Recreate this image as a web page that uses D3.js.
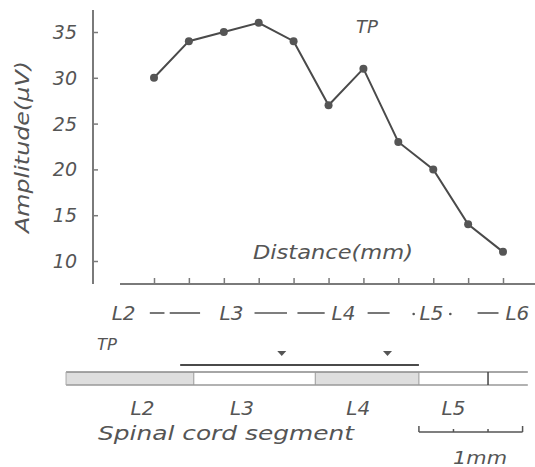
<!DOCTYPE html>
<html><head><meta charset="utf-8">
<script src="https://cdn.jsdelivr.net/npm/d3@7"></script>
<style>
body{margin:0;background:#fff;}
text{font-family:"DejaVu Sans",sans-serif;font-style:italic;fill:#555;}
</style></head>
<body><svg id="c" width="535" height="467"></svg>
<script>
// ---- data ----
const distanceMm = [0, 0.333, 0.667, 1, 1.333, 1.667, 2, 2.333, 2.667, 3, 3.333];
const amplitude  = [30, 34, 35, 36, 34, 27, 31, 23, 20, 14, 11];
const yTicks = [10, 15, 20, 25, 30, 35];
const axisSegLabels = ["L2", "L3", "L4", "L5", "L6"];
const axisSegLabelMm = [-0.29, 0.74, 1.81, 2.65, 3.47];
const axisDashMm = [[-0.04, 0.10], [0.15, 0.44], [0.96, 1.27], [1.37, 1.63], [2.04, 2.25], [3.09, 3.29]];
const axisDotMm = [2.48, 2.83];
const cordSegments = ["L2", "L3", "L4", "L5", ""];
const cordBounds = [-0.84, 0.38, 1.54, 2.53, 3.19, 3.57];
const cordShaded = [true, false, true, false, false];
const cordLabelMm = [-0.11, 0.84, 1.95, 2.86];
const tpRangeMm = [0.25, 2.53];
const tpMarkersMm = [1.22, 2.23];
const scaleBarMm = [2.53, 2.86, 3.19, 3.52];

// ---- scales ----
const svg = d3.select("#c");
const x = d3.scaleLinear().domain([0, 3.333]).range([154, 503]);
const y = d3.scaleLinear().domain([10, 35]).range([261, 32]);
const axisCol = "#7a7a7a", ink = "#4a4a4a";

// y axis
svg.append("line").attr("x1", 93).attr("x2", 93).attr("y1", 10).attr("y2", 284)
  .attr("stroke", axisCol).attr("stroke-width", 2);
const yAxis = d3.axisRight(y).tickValues(yTicks).tickSize(5).tickFormat("");
const gy = svg.append("g").attr("transform", "translate(93,0)").call(yAxis);
gy.select(".domain").remove();
gy.selectAll("line").attr("stroke", axisCol).attr("stroke-width", 1.5);
svg.selectAll(".ylab").data(yTicks).enter().append("text")
  .attr("x", 77).attr("y", d => y(d) + 7).attr("text-anchor", "end")
  .style("font-size", "19px").text(d => d);
svg.append("text").attr("transform", "translate(29,147) rotate(-90)")
  .attr("text-anchor", "middle").style("font-size", "20px")
  .attr("textLength", 172).attr("lengthAdjust", "spacingAndGlyphs").text("Amplitude(\u03bcV)");

// x axis
svg.append("line").attr("x1", 120).attr("x2", 535).attr("y1", 284).attr("y2", 284)
  .attr("stroke", axisCol).attr("stroke-width", 2);
const xAxis = d3.axisTop(x).tickValues(distanceMm).tickSize(6).tickFormat("");
const gx = svg.append("g").attr("transform", "translate(0,284)").call(xAxis);
gx.select(".domain").remove();
gx.selectAll("line").attr("stroke", axisCol).attr("stroke-width", 1.5);

svg.append("text").attr("x", 253).attr("y", 259)
  .style("font-size", "20px").attr("textLength", 160).attr("lengthAdjust", "spacingAndGlyphs")
  .text("Distance(mm)");
svg.append("text").attr("x", 356).attr("y", 33)
  .style("font-size", "18px").attr("textLength", 22).attr("lengthAdjust", "spacingAndGlyphs").text("TP");

// line + points
svg.append("path").datum(amplitude)
  .attr("d", d3.line().x((d, i) => x(distanceMm[i])).y(d => y(d)))
  .attr("fill", "none").attr("stroke", ink).attr("stroke-width", 2);
svg.selectAll(".pt").data(amplitude).enter().append("circle")
  .attr("cx", (d, i) => x(distanceMm[i])).attr("cy", d => y(d)).attr("r", 4)
  .attr("fill", "#555");

// axis segment row
svg.selectAll(".seg").data(axisSegLabels).enter().append("text")
  .attr("x", (d, i) => x(axisSegLabelMm[i])).attr("y", 320).attr("text-anchor", "middle")
  .style("font-size", "20px").text(d => d);
svg.selectAll(".dash").data(axisDashMm).enter().append("line")
  .attr("x1", d => x(d[0])).attr("x2", d => x(d[1])).attr("y1", 313).attr("y2", 313)
  .attr("stroke", "#555").attr("stroke-width", 1.6);
svg.selectAll(".dot").data(axisDotMm).enter().append("circle")
  .attr("cx", d => x(d)).attr("cy", 314).attr("r", 1.3).attr("fill", "#555");

// bottom diagram
svg.append("text").attr("x", 97).attr("y", 350).style("font-size", "15px")
  .attr("textLength", 20).attr("lengthAdjust", "spacingAndGlyphs").text("TP");
svg.selectAll(".tri").data(tpMarkersMm).enter().append("path")
  .attr("d", d => `M${x(d) - 4.5},351 L${x(d) + 4.5},351 L${x(d)},356 Z`).attr("fill", "#555");
svg.append("line").attr("x1", x(tpRangeMm[0])).attr("x2", x(tpRangeMm[1]))
  .attr("y1", 365).attr("y2", 365).attr("stroke", ink).attr("stroke-width", 2);

const cord = svg.append("g");
cord.selectAll("rect").data(cordSegments).enter().append("rect")
  .attr("x", (d, i) => x(cordBounds[i])).attr("y", 372)
  .attr("width", (d, i) => x(cordBounds[i + 1]) - x(cordBounds[i])).attr("height", 13)
  .attr("fill", (d, i) => cordShaded[i] ? "#dedede" : "#fff");
cord.append("line").attr("x1", x(cordBounds[0])).attr("x2", x(cordBounds[5]))
  .attr("y1", 372).attr("y2", 372).attr("stroke", "#888").attr("stroke-width", 1.5);
cord.append("line").attr("x1", x(cordBounds[0])).attr("x2", x(cordBounds[5]))
  .attr("y1", 385).attr("y2", 385).attr("stroke", "#999").attr("stroke-width", 1.5);
cord.append("line").attr("x1", x(cordBounds[0])).attr("x2", x(cordBounds[0]))
  .attr("y1", 372).attr("y2", 385).attr("stroke", "#aaa").attr("stroke-width", 1);
cord.selectAll(".div").data(cordBounds.slice(1, 5)).enter().append("line")
  .attr("x1", d => x(d)).attr("x2", d => x(d)).attr("y1", 372).attr("y2", 385)
  .attr("stroke", (d, i) => i === 3 ? "#444" : "#999").attr("stroke-width", (d, i) => i === 3 ? 1.5 : 1);
svg.selectAll(".clab").data(cordLabelMm).enter().append("text")
  .attr("x", d => x(d)).attr("y", 415).attr("text-anchor", "middle")
  .style("font-size", "20px").text((d, i) => cordSegments[i]);
svg.append("text").attr("x", 98).attr("y", 440).style("font-size", "20px")
  .attr("textLength", 256).attr("lengthAdjust", "spacingAndGlyphs").text("Spinal cord segment");

// scale bar
svg.append("line").attr("x1", x(scaleBarMm[0])).attr("x2", x(scaleBarMm[3]))
  .attr("y1", 432).attr("y2", 432).attr("stroke", "#555").attr("stroke-width", 1.6);
svg.selectAll(".sb").data(scaleBarMm).enter().append("line")
  .attr("x1", d => x(d)).attr("x2", d => x(d)).attr("y1", 432)
  .attr("y2", (d, i) => (i === 0 || i === 3) ? 426 : 429)
  .attr("stroke", "#555").attr("stroke-width", 1.5);
svg.append("text").attr("x", 453).attr("y", 464)
  .style("font-size", "18px").attr("textLength", 54).attr("lengthAdjust", "spacingAndGlyphs").text("1mm");
</script></body></html>
